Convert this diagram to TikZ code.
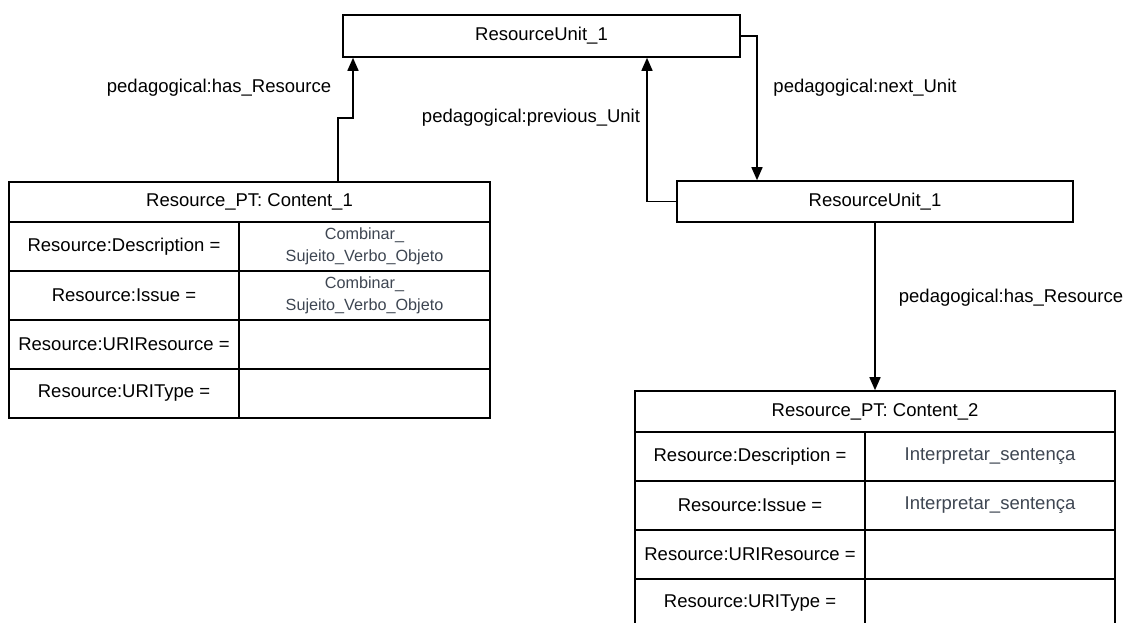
\documentclass[tikz,border=0pt]{standalone}
\usepackage{fontspec}
\setmainfont{Liberation Sans}
\usetikzlibrary{arrows.meta}
\definecolor{valcol}{HTML}{3E4652}
\begin{document}
\begin{tikzpicture}[x=1pt,y=-1pt,
  box/.style={draw=black,line width=1.6pt,fill=white,inner sep=0pt,font=\fontsize{18.5}{22}\selectfont},
  cell/.style={box,minimum height=49pt},
  lcell/.style={cell,minimum width=230pt},
  rcell/.style={cell,text=valcol,align=center},
  lbl/.style={font=\fontsize{18.5}{22}\selectfont,inner sep=0pt},
  arr/.style={line width=1.6pt,-{Triangle[length=13pt,width=11pt]}}]
\clip (0,0) rectangle (1129,623);
\fill[white] (0,0) rectangle (1129,623);
% unit boxes
\node[box,minimum width=397pt,minimum height=42pt] (top) at (541.5,36) {ResourceUnit\_1};
\node[box,minimum width=396pt,minimum height=41pt] (ru) at (875,201.5) {ResourceUnit\_1};
% left table
\node[box,minimum width=481pt,minimum height=40pt] (lthead) at (249.5,202) {Resource\_PT: Content\_1};
\node[lcell] (l1a) at (124,246.5) {Resource:Description =};
\node[rcell,minimum width=251pt,font=\fontsize{16.2}{22}\selectfont] (l1b) at (364.5,246.5) {Combinar\_\\Sujeito\_Verbo\_Objeto};
\node[lcell] (l2a) at (124,295.5) {Resource:Issue =};
\node[rcell,minimum width=251pt,font=\fontsize{16.2}{22}\selectfont] (l2b) at (364.5,295.5) {Combinar\_\\Sujeito\_Verbo\_Objeto};
\node[lcell] (l3a) at (124,344.5) {Resource:URIResource =};
\node[rcell,minimum width=251pt] (l3b) at (364.5,344.5) {};
\node[lcell] (l4a) at (124,393.5) {Resource:URIType =};
\node[rcell,minimum width=251pt] (l4b) at (364.5,393.5) {};
% right table
\node[box,minimum width=480pt,minimum height=41pt] (rthead) at (875,411.5) {Resource\_PT: Content\_2};
\node[lcell] (r1a) at (750,456.5) {Resource:Description =};
\node[rcell,minimum width=250pt] (r1b) at (990,456.5) {Interpretar\_sentença};
\node[lcell] (r2a) at (750,505.5) {Resource:Issue =};
\node[rcell,minimum width=250pt] (r2b) at (990,505.5) {Interpretar\_sentença};
\node[lcell] (r3a) at (750,554.5) {Resource:URIResource =};
\node[rcell,minimum width=250pt] (r3b) at (990,554.5) {};
\node[lcell] (r4a) at (750,603.5) {Resource:URIType =};
\node[rcell,minimum width=250pt] (r4b) at (990,603.5) {};
% connector helpers
\coordinate (c1a) at (338,118);
\coordinate (c1b) at (353,118);
\coordinate (c2) at (647,0);
\coordinate (c3) at (757,0);
% connectors
\draw[arr] (c1a |- lthead.north) -- (c1a) -- (c1b) -- (c1b |- top.south);
\draw[arr] (ru.west) -| (c2 |- top.south);
\draw[arr] (top.east) -| (c3 |- ru.north);
\draw[arr] (ru.south) -- (rthead.north);
% labels
\node[lbl] (t1) at (219,88) {pedagogical:has\_Resource};
\node[lbl] (t2) at (531,118) {pedagogical:previous\_Unit};
\node[lbl] (t3) at (865,88) {pedagogical:next\_Unit};
\node[lbl] (t4) at (1011,298) {pedagogical:has\_Resource};
\end{tikzpicture}
\end{document}
